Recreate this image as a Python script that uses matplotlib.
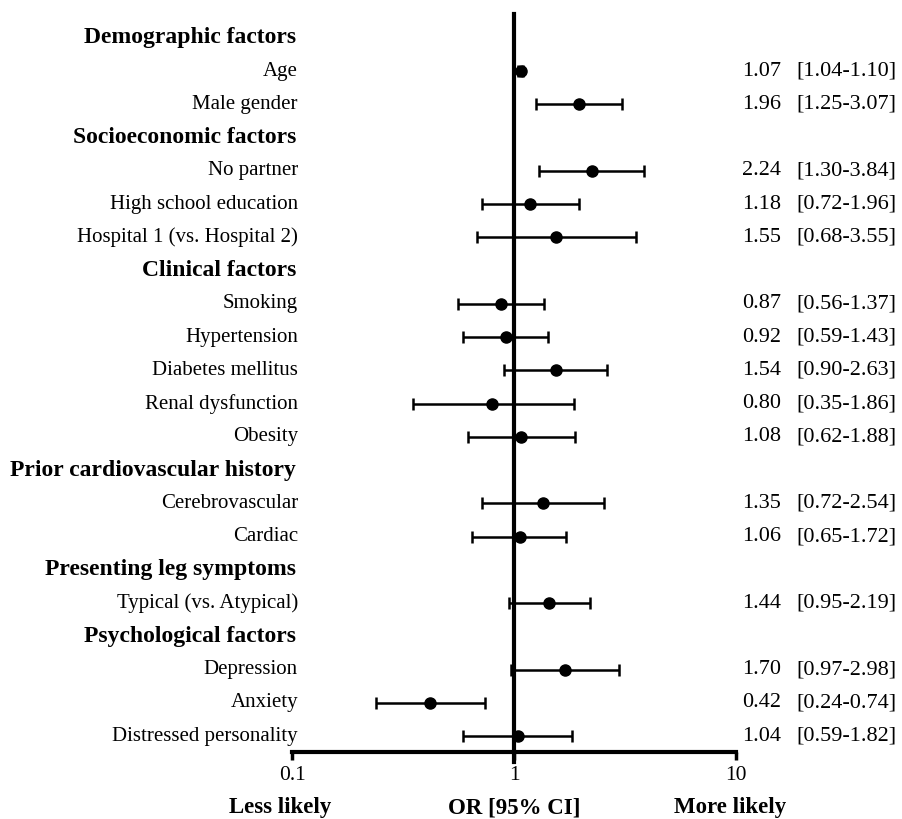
import matplotlib
matplotlib.use("Agg")
import matplotlib.pyplot as plt
import matplotlib.transforms as mtransforms

plt.rcParams['font.family'] = ['Liberation Serif', 'DejaVu Serif']

# Row labels (headers are bold group titles)
row_labels = [
    "Demographic factors", "Age", "Male gender",
    "Socioeconomic factors", "No partner", "High school education", "Hospital 1 (vs. Hospital 2)",
    "Clinical factors", "Smoking", "Hypertension", "Diabetes mellitus", "Renal dysfunction", "Obesity",
    "Prior cardiovascular history", "Cerebrovascular", "Cardiac",
    "Presenting leg symptoms", "Typical (vs. Atypical)",
    "Psychological factors", "Depression", "Anxiety", "Distressed personality",
]
is_header = [
    True, False, False,
    True, False, False, False,
    True, False, False, False, False, False,
    True, False, False,
    True, False,
    True, False, False, False,
]
# Odds ratios and 95% CI (None for header rows)
odds_ratio = [None, 1.07, 1.96, None, 2.24, 1.18, 1.55, None, 0.87, 0.92, 1.54, 0.80, 1.08,
              None, 1.35, 1.06, None, 1.44, None, 1.70, 0.42, 1.04]
ci_low = [None, 1.04, 1.25, None, 1.30, 0.72, 0.68, None, 0.56, 0.59, 0.90, 0.35, 0.62,
          None, 0.72, 0.65, None, 0.95, None, 0.97, 0.24, 0.59]
ci_high = [None, 1.10, 3.07, None, 3.84, 1.96, 3.55, None, 1.37, 1.43, 2.63, 1.86, 1.88,
           None, 2.54, 1.72, None, 2.19, None, 2.98, 0.74, 1.82]
x_ticks = [0.1, 1, 10]
x_tick_labels = ["0.1", "1", "10"]

W, H = 903, 819
fig = plt.figure(figsize=(W / 100, H / 100), dpi=100)

# axes in pixel coords
x0, x1 = 292, 736
y_top, y_bot = 14, 752
row0, row_step = 38, 33.24
ax = fig.add_axes([x0 / W, 1 - y_bot / H, (x1 - x0) / W, (y_bot - y_top) / H])
ax.set_xscale('log')
ax.set_xlim(0.1, 10)
ax.set_ylim((y_bot - row0) / row_step, (y_top - row0) / row_step)

for i, (orv, lo, hi) in enumerate(zip(odds_ratio, ci_low, ci_high)):
    if orv is None:
        continue
    ax.errorbar([orv], [i], xerr=[[orv - lo], [hi - orv]], fmt='o', color='black',
                ms=8, elinewidth=1.8, capsize=4.5, capthick=1.8, zorder=3)

# reference line at OR = 1
ax.plot([1, 1], [(y_top - row0) / row_step, (762 - row0) / row_step], color='black',
        lw=3, clip_on=False, zorder=4)

for s in ['top', 'right', 'left']:
    ax.spines[s].set_visible(False)
ax.spines['bottom'].set_linewidth(3)
ax.set_yticks([])
ax.set_xticks(x_ticks)
ax.set_xticklabels(x_tick_labels, fontsize=15.5)
ax.xaxis.set_minor_locator(matplotlib.ticker.NullLocator())
ax.tick_params(axis='x', direction='out', length=6, width=2.5, pad=4)

trans = mtransforms.blended_transform_factory(fig.transFigure, ax.transData)
for i, (lab, hdr) in enumerate(zip(row_labels, is_header)):
    if hdr:
        ax.text(296 / W, i, lab, transform=trans, ha='right', va='center',
                fontsize=17, fontweight='bold')
    else:
        ax.text(298 / W, i, lab, transform=trans, ha='right', va='center', fontsize=15)
    if odds_ratio[i] is not None:
        ax.text(742 / W, i, f"{odds_ratio[i]:.2f}", transform=trans, ha='left',
                va='center', fontsize=16)
        ax.text(796 / W, i, f"[{ci_low[i]:.2f}-{ci_high[i]:.2f}]", transform=trans,
                ha='left', va='center', fontsize=16)

fig.text(280 / W, 1 - 808 / H, "Less likely", ha='center', va='center',
         fontsize=16.5, fontweight='bold')
fig.text(514 / W, 1 - 808 / H, "OR [95% CI]", ha='center', va='center',
         fontsize=16.5, fontweight='bold')
fig.text(730 / W, 1 - 808 / H, "More likely", ha='center', va='center',
         fontsize=16.5, fontweight='bold')

fig.savefig("out.png", dpi=100)
